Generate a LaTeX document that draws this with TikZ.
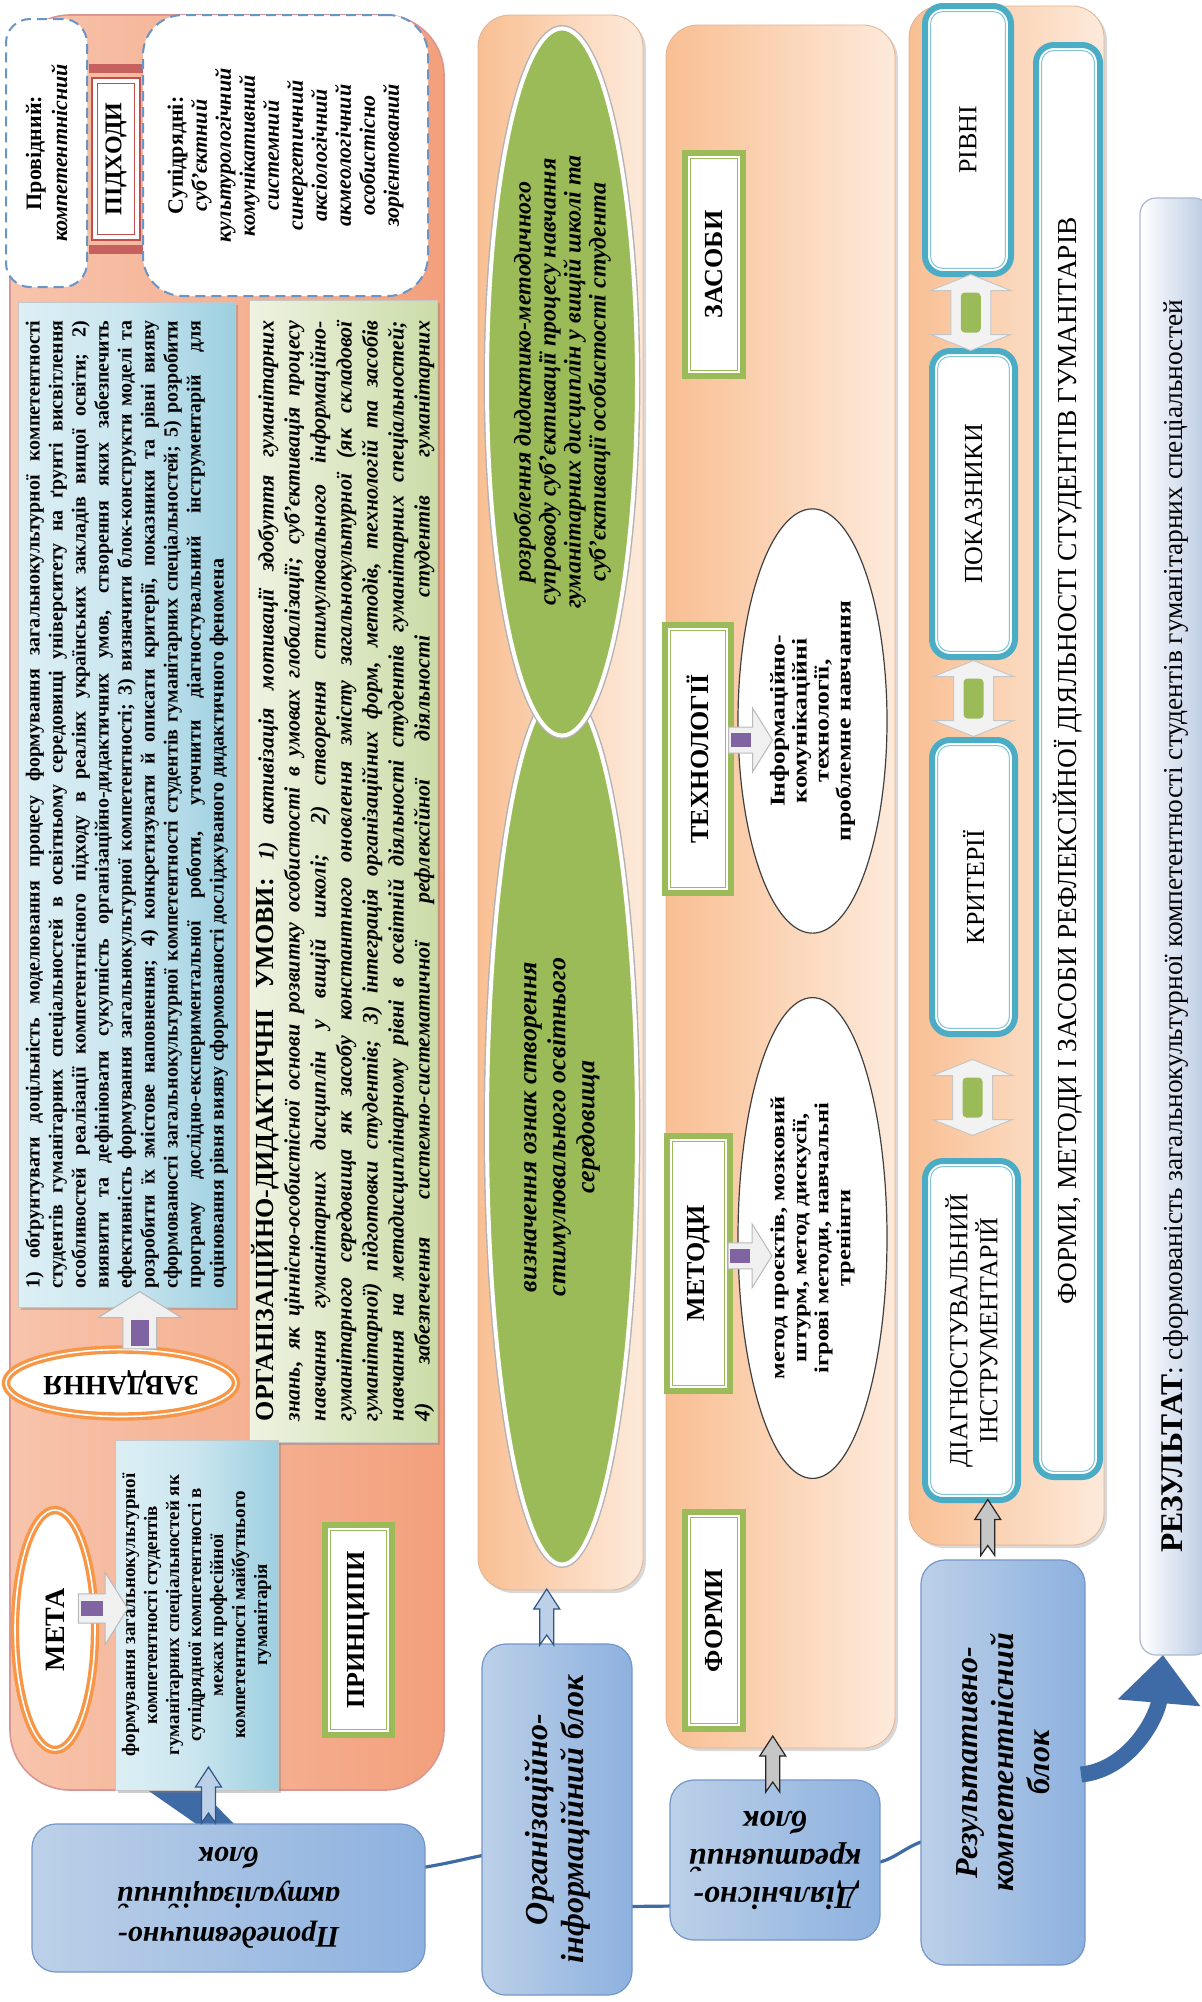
\documentclass[tikz,border=0pt]{standalone}
\usepackage{graphicx}
\usepackage{fontspec}
\setmainfont{Liberation Serif}
\newfontfamily\stretchfont[FakeStretch=1.22]{Liberation Serif}
\usetikzlibrary{calc,shapes.geometric,arrows.meta,shadows}
\pgfdeclarelayer{bg}
\pgfsetlayers{bg,main}
\definecolor{salL}{HTML}{F7C4AC}
\definecolor{salR}{HTML}{F3A07C}
\definecolor{salD}{HTML}{C0504D}
\definecolor{dashb}{HTML}{4F81BD}
\definecolor{grn}{HTML}{9BBB59}
\definecolor{grnL}{HTML}{EEF3E2}
\definecolor{grnR}{HTML}{CBDCA8}
\definecolor{bluL}{HTML}{DDEFF5}
\definecolor{bluR}{HTML}{9DCFE0}
\definecolor{orgL}{HTML}{F9BF93}
\definecolor{orgR}{HTML}{FDEADB}
\definecolor{orgD}{HTML}{F79646}
\definecolor{tealc}{HTML}{4BACC6}
\definecolor{blkL}{HTML}{BCD0E8}
\definecolor{blkR}{HTML}{8DB1DF}
\definecolor{blkD}{HTML}{7496C8}
\definecolor{dkb}{HTML}{3E6AA6}
\definecolor{purp}{HTML}{8064A2}
\definecolor{resR}{HTML}{B7C8E2}
\newcommand{\rtxt}[2]{\rotatebox{90}{\parbox{#1}{\centering #2}}}
\newcommand{\ftxt}[2]{\rotatebox{180}{\parbox{#1}{\centering #2}}}
\newcommand{\rjus}[2]{\rotatebox{90}{\parbox{#1}{\tolerance=10000\emergencystretch=20pt #2}}}
\tikzset{
 every node/.style={inner sep=0pt, outer sep=0pt},
 salmonbox/.style={rectangle, rounded corners=30pt, left color=salL, right color=salR, draw=salD!60, line width=0.8pt},
 dashbox/.style={rectangle, rounded corners=12pt, fill=white, draw=dashb!85, dash pattern=on 5pt off 3pt, line width=1pt},
 framed/.style 2 args={rectangle, fill=white, draw=#1, line width=#2,
   path picture={\draw[#1, line width=0.5pt] ([shift={(2.6pt,2.6pt)}]path picture bounding box.south west) rectangle ([shift={(-2.6pt,-2.6pt)}]path picture bounding box.north east);}},
 tealbox/.style={rectangle, rounded corners=9pt, fill=white, draw=tealc, line width=3pt,
   path picture={\draw[tealc!70, line width=0.5pt, rounded corners=6pt] ([shift={(2.8pt,2.8pt)}]path picture bounding box.south west) rectangle ([shift={(-2.8pt,-2.8pt)}]path picture bounding box.north east);}},
 bluebox/.style={rectangle, left color=bluL, right color=bluR, middle color=bluL!70!bluR, draw=gray!45, line width=0.5pt, drop shadow={shadow xshift=1.5pt, shadow yshift=-1.5pt, opacity=0.4}},
 greenbox/.style={rectangle, left color=grnL, right color=grnR, draw=gray!45, line width=0.5pt, drop shadow={shadow xshift=1.5pt, shadow yshift=-1.5pt, opacity=0.4}},
 column/.style={rectangle, rounded corners=16pt, left color=orgL, right color=orgR, draw=orgL!80!gray, line width=0.4pt, drop shadow={shadow xshift=1.5pt, shadow yshift=-1.5pt, opacity=0.3}},
 blockbox/.style={rectangle, rounded corners=12pt, left color=blkL, right color=blkR, draw=blkD, line width=0.6pt},
 gell/.style={ellipse, fill=grn, draw=white, line width=2pt, preaction={draw=gray!60, line width=3.4pt}},
 well/.style={ellipse, fill=white, draw=black!75, line width=0.6pt},
 oell/.style={ellipse, fill=white, draw=orgD, line width=1.7pt, double=white, double distance=0.8pt},
 chevsty/.style={fill=blkL, draw=dkb!80!black, line width=0.6pt},
 barrow/.pic={
   \draw[draw=gray!55, fill=gray!12, line width=0.5pt] (-22,-13) -- (2,-13) -- (2,-32) -- (22,0) -- (2,32) -- (2,13) -- (-22,13) -- cycle;
   \fill[purp] (-20,-7) rectangle (0,7);
 },
 udarrow/.pic={
   \draw[draw=gray!45, fill=gray!10, line width=0.5pt] (0,-38) -- (40,-22) -- (20,-22) -- (20,22) -- (40,22) -- (0,38) -- (-40,22) -- (-20,22) -- (-20,-22) -- (-40,-22) -- cycle;
   \fill[grn, rounded corners=2pt] (-10,-20) rectangle (10,20);
 },
 chevup/.pic={
   \draw[chevsty] (0,-28) -- (13,-8) -- (7,-8) -- (7,28) -- (0,18) -- (-7,28) -- (-7,-8) -- (-13,-8) -- cycle;
 },
}
\begin{document}
\begin{tikzpicture}[x=0.5pt,y=-0.5pt]
\useasboundingbox (0,0) rectangle (1201,2002);
\begin{pgfonlayer}{bg}
\fill[white] (0,0) rectangle (1201,2002);
\end{pgfonlayer}

% ---------------- left block
\node[salmonbox, minimum width=217pt, minimum height=887.5pt] (goal) at (227,902.5) {};
\node[dashbox, minimum width=40.5pt, minimum height=134pt, font=\fontsize{11}{13}\selectfont] (lead) at (46.5,153)
  {\rtxt{125pt}{\textbf{Провідний:}\\\textbf{\textit{компетентнісний}}}};
\node[framed={salD}{0.8pt}, minimum width=24pt, minimum height=81pt, font=\fontsize{12}{12}\selectfont\bfseries] (appr) at (116,159)
  {\rotatebox{90}{ПІДХОДИ}};
\fill[salD!90] ($(appr.north west)+(-3,-14)$) rectangle ($(appr.north east)+(3,-5)$);
\fill[salD!90] ($(appr.south west)+(-3,5)$) rectangle ($(appr.south east)+(3,14)$);
\node[dashbox, rounded corners=20pt, minimum width=142.5pt, minimum height=140.5pt, font=\fontsize{11}{12}\selectfont\bfseries] (sub) at (285.5,155.5)
  {\rtxt{130pt}{Супідрядні:\\ \itshape суб’єктний\\ культурологічний\\ комунікативний\\ системний\\ синергетичний\\ аксіологічний\\ акмеологічний\\ особистісно\\ зорієнтований}};
\node[bluebox, minimum width=108.5pt, minimum height=502.5pt, font=\fontsize{10}{11.5}\selectfont\bfseries] (task) at (126.5,804.5)
  {\rjus{484pt}{1) обґрунтувати доцільність моделювання процесу формування загальнокультурної компетентності\linebreak
  студентів гуманітарних спеціальностей в освітньому середовищі університету на ґрунті висвітлення\linebreak
  особливостей реалізації компетентнісного підходу в реаліях українських закладів вищої освіти; 2)\linebreak
  виявити та дефініювати сукупність організаційно-дидактичних умов, створення яких забезпечить\linebreak
  ефективність формування загальнокультурної компетентності; 3) визначити блок-конструкти моделі та\linebreak
  розробити їх змістове наповнення; 4) конкретизувати й описати критерії, показники та рівні вияву\linebreak
  сформованості загальнокультурної компетентності студентів гуманітарних спеціальностей; 5) розробити\linebreak
  програму дослідно-експериментальної роботи, уточнити діагностувальний інструментарій для\linebreak
  оцінювання рівня вияву сформованості досліджуваного дидактичного феномена}};
\node[greenbox, minimum width=94pt, minimum height=571pt, font=\fontsize{11}{13}\selectfont\bfseries\itshape] (cond) at (343,871)
  {\rjus{550pt}{\parfillskip=0pt {\upshape\fontsize{13}{13}\selectfont ОРГАНІЗАЦІЙНО-ДИДАКТИЧНІ УМОВИ:} 1) активізація мотивації здобуття гуманітарних\linebreak
  знань, як ціннісно-особистісної основи розвитку особистості в умовах глобалізації; суб’єктивація процесу\linebreak
  навчання гуманітарних дисциплін у вищій школі; 2) створення стимулювального інформаційно-\linebreak
  гуманітарного середовища як засобу константного оновлення змісту загальнокультурної (як складової\linebreak
  гуманітарної) підготовки студентів; 3) інтеграція організаційних форм, методів, технологій та засобів\linebreak
  навчання на метадисциплінарному рівні в освітній діяльності студентів гуманітарних спеціальностей;\linebreak
  4) забезпечення системно-систематичної рефлексійної діяльності студентів гуманітарних\par}};
\node[oell, minimum width=115pt, minimum height=33.5pt, font=\fontsize{14}{14}\selectfont\bfseries] (zav) at (121,1383)
  {\rotatebox{180}{ЗАВДАННЯ}};
\node[oell, minimum width=40pt, minimum height=120pt, font=\fontsize{14}{14}\selectfont\bfseries] (meta) at (55,1630)
  {\rotatebox{90}{МЕТА}};
\node[bluebox, minimum width=81.5pt, minimum height=175pt, font=\fontsize{9.5}{11}\selectfont\bfseries] (metabox) at (196.5,1615)
  {\rtxt{160pt}{формування загальнокультурної\\ компетентності студентів\\ гуманітарних спеціальностей як\\ супідрядної компетентності в\\ межах професійної\\ компетентності майбутнього\\ гуманітарія}};
\node[framed={grn}{3pt}, minimum width=33.5pt, minimum height=105pt, font=\fontsize{13}{13}\selectfont\bfseries] (princ) at (358.5,1630)
  {\rotatebox{90}{ПРИНЦИПИ}};

% ---------------- ellipse column
\node[column, minimum width=82.5pt, minimum height=787.5pt] (ellcol) at (560.5,802.5) {};
\node[gell, minimum width=75pt, minimum height=437.5pt, font=\fontsize{13}{14.5}\selectfont\bfseries\itshape] (ell2) at (562,1127)
  {\rtxt{200pt}{визначення ознак створення\\ стимулювального освітнього\\ середовища}};
\node[gell, minimum width=75pt, minimum height=325pt, font=\fontsize{12}{12.5}\selectfont\bfseries\itshape] (ell1) at (562,382)
  {\rtxt{250pt}{розроблення дидактико-методичного\\ супроводу суб’єктивації процесу навчання\\ гуманітарних дисциплін у вищій школі та\\ суб’єктивації особистості студента}};

% ---------------- methods column
\node[column, minimum width=114.5pt, minimum height=861.5pt] (methcol) at (780.5,886.5) {};
\node[framed={grn}{3pt}, minimum width=29pt, minimum height=111.5pt, font=\fontsize{13}{13}\selectfont\bfseries] (zasoby) at (714,264.5)
  {\rotatebox{90}{ЗАСОБИ}};
\node[framed={grn}{3pt}, minimum width=33pt, minimum height=134pt, font=\fontsize{13}{13}\selectfont\bfseries] (tech) at (698,759)
  {\rotatebox{90}{ТЕХНОЛОГІЇ}};
\node[well, minimum width=74.5pt, minimum height=172pt, font=\stretchfont\fontsize{10.5}{11}\selectfont\bfseries] (techell) at (812.5,721)
  {\rtxt{150pt}{Інформаційно-\\ комунікаційні\\ технології,\\ проблемне навчання}};
\node[framed={grn}{3pt}, minimum width=31.5pt, minimum height=127.5pt, font=\fontsize{13}{13}\selectfont\bfseries] (metody) at (698.5,1263.5)
  {\rotatebox{90}{МЕТОДИ}};
\node[well, minimum width=74.5pt, minimum height=198pt, font=\stretchfont\fontsize{10}{11}\selectfont\bfseries] (metell) at (812.5,1238)
  {\rtxt{170pt}{метод проєктів, мозковий\\ штурм, метод дискусії,\\ ігрові методи, навчальні\\ тренінги}};
\node[framed={grn}{3pt}, minimum width=29pt, minimum height=108.5pt, font=\fontsize{13}{13}\selectfont\bfseries] (formy) at (714,1620.5)
  {\rotatebox{90}{ФОРМИ}};

% ---------------- result column
\node[column, minimum width=97.5pt, minimum height=769.5pt] (rescol) at (1006.5,775.5) {};
\node[tealbox, minimum width=43pt, minimum height=134pt, font=\fontsize{13}{13}\selectfont] (rivni) at (968,140)
  {\rotatebox{90}{РІВНІ}};
\node[tealbox, minimum width=41.5pt, minimum height=153pt, font=\fontsize{13}{13}\selectfont] (pokaz) at (973.5,504)
  {\rotatebox{90}{ПОКАЗНИКИ}};
\node[tealbox, minimum width=41.5pt, minimum height=147pt, font=\fontsize{13}{13}\selectfont] (kryt) at (973.5,887)
  {\rotatebox{90}{КРИТЕРІЇ}};
\node[tealbox, minimum width=46.5pt, minimum height=169.5pt, font=\fontsize{13}{15}\selectfont] (diag) at (971.5,1330.5)
  {\rtxt{160pt}{ДІАГНОСТУВАЛЬНИЙ\\ ІНСТРУМЕНТАРІЙ}};
\node[tealbox, minimum width=32pt, minimum height=716pt, font=\fontsize{13.7}{13.7}\selectfont] (longb) at (1068,761)
  {\rotatebox{90}{ФОРМИ, МЕТОДИ І ЗАСОБИ РЕФЛЕКСІЙНОЇ ДІЯЛЬНОСТІ СТУДЕНТІВ ГУМАНІТАРІВ}};
\node[rectangle, rounded corners=8pt, left color=white, right color=resR, draw=resR!80!gray, line width=0.6pt, minimum width=35pt, minimum height=728.5pt, font=\fontsize{13.7}{13.7}\selectfont] (result) at (1175,926.5)
  {\rotatebox{90}{{\fontsize{15.8}{15.8}\selectfont\bfseries РЕЗУЛЬТАТ}: сформованість загальнокультурної компетентності студентів гуманітарних спеціальностей}};

% ---------------- blocks
\node[blockbox, minimum width=196.5pt, minimum height=74pt, font=\fontsize{15}{20}\selectfont\bfseries\itshape] (prop) at (228.5,1898)
  {\ftxt{170pt}{Пропедевтично-\\ актуалізаційний\\ блок}};
\node[blockbox, minimum width=75pt, minimum height=175.5pt, font=\fontsize{16}{18}\selectfont\bfseries\itshape] (org) at (557,1819.5)
  {\rtxt{170pt}{Організаційно-\\ інформаційний блок}};
\node[blockbox, minimum width=105pt, minimum height=80pt, font=\fontsize{16}{19}\selectfont\bfseries\itshape] (dial) at (775,1860)
  {\ftxt{100pt}{Діяльнісно-\\ креативний\\ блок}};
\node[blockbox, minimum width=82pt, minimum height=202.5pt, font=\fontsize{16}{18}\selectfont\bfseries\itshape] (res) at (1003,1762.5)
  {\rtxt{170pt}{Результативно-\\ компетентнісний\\ блок}};

% ---------------- connectors behind
\begin{pgfonlayer}{bg}
\fill[dkb] ($(goal.south)+(-117,-26)$) -- ($(goal.south)+(-52,-26)$) -- ($(prop.north)+(11.5,6)$) -- ($(prop.north)+(-23.5,6)$) -- cycle;
\draw[dkb, line width=1.6pt] ($(prop.east)+(-5,-30)$) .. controls +(30,-5) and +(-25,5) .. ($(org.west)+(5,35)$);
\draw[dkb, line width=1.6pt] ($(org.east)+(-5,87)$) -- ($(dial.west)+(5,46)$);
\draw[dkb, line width=1.6pt] ($(dial.east)+(-5,3)$) .. controls +(20,-3) and +(-20,5) .. ($(res.west)+(5,78)$);
\end{pgfonlayer}

% ---------------- arrows
\draw[dkb, line width=8pt, -{Triangle[length=24pt,width=40pt]}] ($(res.east)+(-4,12)$) .. controls +(50,-5) and +(-5,60) .. ($(result.south)+(-12,0)$);
\pic[scale=1.12] at ($(meta.east)!0.5!(metabox.west)+(-2,-14)$) {barrow};
\pic[rotate=90, scale=1.3] at ($(zav.north)!0.5!(task.south)+(16,-8)$) {barrow};
\pic at ($(tech.east)!0.5!(techell.west)+(16,0)$) {barrow};
\pic at ($(metody.east)!0.5!(metell.west)+(16,5)$) {barrow};
\pic at ($(rivni.south)!0.5!(pokaz.north)$) {udarrow};
\pic at ($(pokaz.south)!0.5!(kryt.north)$) {udarrow};
\pic at ($(kryt.south)!0.5!(diag.north)$) {udarrow};
\pic at ($(org.north)!0.5!(ellcol.south)+(-12,0)$) {chevup};
\pic at ($(prop.north)!0.5!(metabox.south)+(-4,-12)$) {chevup};
\pic[chevsty/.style={fill=gray!45, draw=gray!30!black, line width=0.6pt}] at ($(dial.north)!0.5!(methcol.south)+(-5,0)$) {chevup};
\pic[chevsty/.style={fill=gray!45, draw=gray!30!black, line width=0.6pt}] at ($(res.north)!0.5!(rescol.south)+(-17,-25)$) {chevup};
\end{tikzpicture}
\end{document}
